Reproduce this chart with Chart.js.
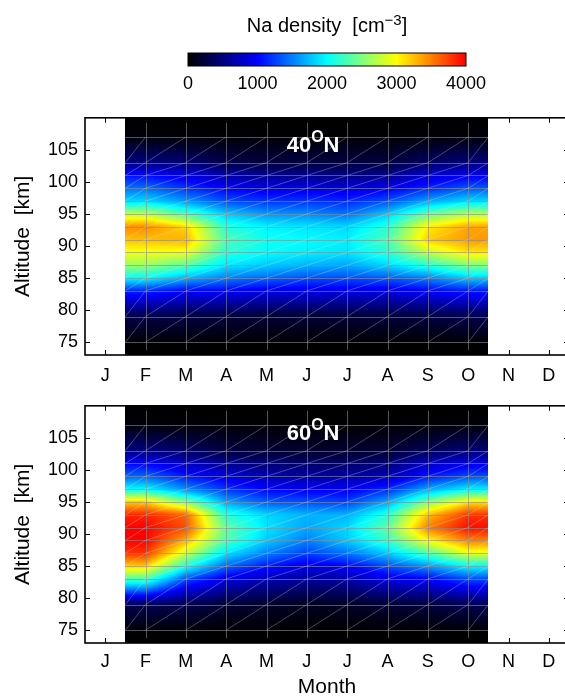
<!DOCTYPE html>
<html lang="en">
<head>
<meta charset="UTF-8">
<title>Na density by month and altitude</title>
<script src="https://cdn.jsdelivr.net/npm/chart.js@4.4.1/dist/chart.umd.min.js"></script>
<style>
  html, body { margin: 0; padding: 0; overflow: hidden; background: #fff; }
  body { position: relative; width: 565px; height: 698px; }
  canvas { position: absolute; left: 0; }
  #cbar { top: 0; }
  #map40 { top: 100px; }
  #map60 { top: 388px; }
</style>
</head>
<body>
<canvas id="cbar" width="565" height="100"></canvas>
<canvas id="map40" width="575" height="290"></canvas>
<canvas id="map60" width="575" height="310"></canvas>
<script>
// axis labels and ticks
const monthLabels = ['J', 'F', 'M', 'A', 'M', 'J', 'J', 'A', 'S', 'O', 'N', 'D'];
const monthTicks = [1, 2, 3, 4, 5, 6, 7, 8, 9, 10, 11, 12];
const altTicks = [75, 80, 85, 90, 95, 100, 105];
const cbTicks = [0, 1000, 2000, 3000, 4000];

// measurement grid: columns are months (Feb..Oct), rows are altitudes in km
const dataMonths = [2, 3, 4, 5, 6, 7, 8, 9, 10];
const dataStart = 1.5, dataEnd = 10.5;
const altRows = [73, 75, 79, 83, 85, 87, 89, 91, 93, 95, 97, 99, 101, 103, 107, 110];

// 40N, density per altitude row (cm^-3)
const feb40 = [0, 20, 280, 1150, 2000, 2600, 2950, 3250, 3450, 2750, 1850, 1450, 1050, 500, 40, 0];
const mar40 = [0, 20, 250, 1000, 1700, 2350, 2950, 3300, 3150, 2300, 1600, 1200, 900, 450, 30, 0];
const apr40 = [0, 10, 220, 1000, 1500, 1900, 2150, 2300, 2150, 1800, 1300, 1000, 650, 300, 20, 0];
const may40 = [0, 10, 200, 900, 1400, 1800, 2000, 2050, 1950, 1600, 1200, 900, 550, 250, 20, 0];
const jun40 = [0, 10, 200, 900, 1300, 1700, 1950, 2000, 1900, 1550, 1200, 900, 550, 250, 20, 0];
const jul40 = [0, 10, 200, 900, 1300, 1650, 1900, 1950, 1850, 1450, 1150, 850, 500, 250, 20, 0];
const aug40 = [0, 10, 220, 900, 1350, 1850, 2150, 2300, 2150, 1800, 1300, 950, 550, 250, 20, 0];
const sep40 = [0, 15, 250, 1000, 1500, 2150, 2750, 3200, 3050, 2400, 1650, 1150, 800, 400, 30, 0];
const oct40 = [0, 20, 300, 1100, 1800, 2500, 3100, 3400, 3350, 2700, 1850, 1350, 950, 480, 40, 0];

// 60N
const feb60 = [0, 30, 320, 2300, 3200, 3800, 4000, 4000, 3850, 3200, 2000, 1400, 1000, 500, 40, 0];
const mar60 = [0, 20, 300, 1300, 2100, 2800, 3300, 3700, 3600, 2500, 1550, 1100, 750, 400, 30, 0];
const apr60 = [0, 10, 200, 900, 1400, 1900, 2300, 2400, 2150, 1650, 1200, 900, 550, 250, 20, 0];
const may60 = [0, 10, 160, 700, 1100, 1500, 1800, 1900, 1850, 1350, 1000, 700, 450, 200, 15, 0];
const jun60 = [0, 5, 120, 600, 900, 1250, 1500, 1650, 1700, 1300, 950, 650, 400, 180, 10, 0];
const jul60 = [0, 5, 140, 650, 1000, 1450, 1800, 1850, 1700, 1250, 950, 650, 400, 180, 10, 0];
const aug60 = [0, 10, 200, 900, 1300, 1800, 2200, 2400, 2150, 1650, 1150, 750, 450, 200, 15, 0];
const sep60 = [0, 15, 240, 1000, 1600, 2300, 3000, 3500, 3250, 2500, 1650, 1100, 750, 350, 25, 0];
const oct60 = [0, 20, 320, 1300, 2000, 2900, 3500, 3950, 3800, 3100, 1950, 1300, 900, 450, 35, 0];

const grid40 = [feb40, mar40, apr40, may40, jun40, jul40, aug40, sep40, oct40];
const grid60 = [feb60, mar60, apr60, may60, jun60, jul60, aug60, sep60, oct60];

const cMin = cbTicks[0], cMax = cbTicks[cbTicks.length - 1];
const FONT = '"Liberation Sans", Arial, Helvetica, sans-serif';
Chart.defaults.font.family = FONT;
Chart.defaults.color = '#000';

// black -> blue -> cyan -> yellow -> red
const cStops = [[0, 0, 0], [0, 0, 255], [0, 255, 255], [255, 255, 0], [255, 0, 0]];
function cmap(v) {
    let t = (v - cMin) / (cMax - cMin);
    t = Math.min(1, Math.max(0, t)) * (cStops.length - 1);
    const i = Math.min(cStops.length - 2, Math.floor(t));
    const f = t - i;
    const a = cStops[i], b = cStops[i + 1];
    return [a[0] + (b[0] - a[0]) * f, a[1] + (b[1] - a[1]) * f, a[2] + (b[2] - a[2]) * f];
}

function findCell(arr, v) {
    v = Math.min(arr[arr.length - 1], Math.max(arr[0], v));
    let i = 0;
    while (i < arr.length - 2 && v > arr[i + 1]) i++;
    return [i, (v - arr[i]) / (arr[i + 1] - arr[i])];
}

function interp(grid, m, a) {
    const [i, tm] = findCell(dataMonths, m);
    const [j, ta] = findCell(altRows, a);
    const lo = grid[i][j] * (1 - ta) + grid[i][j + 1] * ta;
    const hi = grid[i + 1][j] * (1 - ta) + grid[i + 1][j + 1] * ta;
    return lo * (1 - tm) + hi * tm;
}

// draws pieces of text with superscripts, starting at x on a baseline
function drawParts(ctx, parts, x, y, align) {
    ctx.save();
    ctx.textBaseline = 'alphabetic';
    ctx.textAlign = 'left';
    let total = 0;
    parts.forEach(p => { ctx.font = p.font; total += ctx.measureText(p.text).width; });
    let cx = align === 'center' ? x - total / 2 : x;
    parts.forEach(p => {
        ctx.font = p.font;
        ctx.fillText(p.text, cx, y + p.dy);
        cx += ctx.measureText(p.text).width;
    });
    ctx.restore();
}

const colorbarPlugin = {
    id: 'colorbar',
    afterDraw(chart) {
        const {ctx, chartArea: a, scales: {x}} = chart;
        ctx.save();
        for (let px = Math.floor(a.left); px < Math.ceil(a.right); px++) {
            const c = cmap(x.getValueForPixel(px + 0.5));
            ctx.fillStyle = `rgb(${c[0] | 0},${c[1] | 0},${c[2] | 0})`;
            ctx.fillRect(px, a.top, 1, a.bottom - a.top);
        }
        ctx.strokeStyle = '#000';
        ctx.lineWidth = 1;
        ctx.strokeRect(a.left, a.top, a.right - a.left, a.bottom - a.top);
        ctx.fillStyle = '#000';
        drawParts(ctx, [
            {text: 'Na density  [cm', font: `20px ${FONT}`, dy: 0},
            {text: '\u22123', font: `15px ${FONT}`, dy: -7},
            {text: ']', font: `20px ${FONT}`, dy: 0}
        ], (a.left + a.right) / 2, 32, 'center');
        ctx.restore();
    }
};

new Chart(document.getElementById('cbar'), {
    type: 'scatter',
    data: {datasets: []},
    options: {
        responsive: false,
        animation: false,
        layout: {padding: {left: 188, right: 99, top: 53, bottom: 0}},
        plugins: {legend: {display: false}, tooltip: {enabled: false}},
        scales: {
            x: {
                type: 'linear', min: cMin, max: cMax,
                afterBuildTicks: s => { s.ticks = cbTicks.map(v => ({value: v})); },
                afterFit: s => { s.height = 34; },
                grid: {display: false, drawTicks: false},
                border: {display: false},
                ticks: {padding: 7, font: {size: 18}, maxRotation: 0, autoSkip: false, callback: v => String(v)}
            },
            y: {display: false, min: 0, max: 1}
        }
    },
    plugins: [colorbarPlugin]
});

function makeMap(id, grid, lat, axisHeight, tickPad, showTitle) {
    const meshCols = [dataStart, ...dataMonths, dataEnd];
    const heatPlugin = {
        id: 'heat' + id,
        beforeDatasetsDraw(chart) {
            const {ctx, chartArea: a, scales: {x, y}} = chart;
            const x0 = Math.round(x.getPixelForValue(dataStart));
            const x1 = Math.round(x.getPixelForValue(dataEnd));
            const y0 = Math.round(a.top), y1 = Math.round(a.bottom);
            const w = x1 - x0, h = y1 - y0;
            const off = document.createElement('canvas');
            off.width = w; off.height = h;
            const octx = off.getContext('2d');
            const img = octx.createImageData(w, h);
            for (let py = 0; py < h; py++) {
                const alt = y.getValueForPixel(y0 + py + 0.5);
                for (let px = 0; px < w; px++) {
                    const m = x.getValueForPixel(x0 + px + 0.5);
                    const c = cmap(interp(grid, m, alt));
                    const k = (py * w + px) * 4;
                    img.data[k] = c[0]; img.data[k + 1] = c[1]; img.data[k + 2] = c[2]; img.data[k + 3] = 255;
                }
            }
            octx.putImageData(img, 0, 0);
            ctx.drawImage(off, x0, y0);

            // mesh of the measurement grid
            ctx.save();
            ctx.beginPath();
            ctx.rect(x0, y0, w, h);
            ctx.clip();
            ctx.lineWidth = 1;
            ctx.strokeStyle = 'rgba(140,140,140,0.6)';
            ctx.beginPath();
            altRows.slice(1, -1).forEach(v => {
                const py = Math.round(y.getPixelForValue(v)) + 0.5;
                ctx.moveTo(x0, py); ctx.lineTo(x1, py);
            });
            dataMonths.forEach(v => {
                const px = Math.round(x.getPixelForValue(v)) + 0.5;
                ctx.moveTo(px, y0); ctx.lineTo(px, y1);
            });
            ctx.stroke();
            // cell diagonals
            ctx.strokeStyle = 'rgba(220,220,220,0.4)';
            ctx.lineWidth = 0.8;
            ctx.beginPath();
            for (let i = 0; i < meshCols.length - 1; i++) {
                for (let j = 1; j < altRows.length - 2; j++) {
                    ctx.moveTo(x.getPixelForValue(meshCols[i]), y.getPixelForValue(altRows[j]));
                    ctx.lineTo(x.getPixelForValue(meshCols[i + 1]), y.getPixelForValue(altRows[j + 1]));
                }
            }
            ctx.stroke();
            ctx.restore();
        },
        afterDraw(chart) {
            const {ctx, chartArea: a, scales: {x, y}} = chart;
            ctx.save();
            ctx.strokeStyle = '#000';
            ctx.lineWidth = 1;
            ctx.beginPath();
            x.ticks.forEach(t => {
                const px = Math.round(x.getPixelForValue(t.value)) + 0.5;
                ctx.moveTo(px, a.top); ctx.lineTo(px, a.top + 5);
                ctx.moveTo(px, a.bottom); ctx.lineTo(px, a.bottom - 5);
            });
            y.ticks.forEach(t => {
                const py = Math.round(y.getPixelForValue(t.value)) + 0.5;
                ctx.moveTo(a.left, py); ctx.lineTo(a.left + 5, py);
                ctx.moveTo(a.right, py); ctx.lineTo(a.right - 5, py);
            });
            ctx.stroke();
            ctx.lineWidth = 1.6;
            ctx.strokeRect(a.left, a.top, a.right - a.left, a.bottom - a.top);

            ctx.fillStyle = '#fff';
            drawParts(ctx, [
                {text: lat, font: `bold 22px ${FONT}`, dy: 0},
                {text: 'O', font: `bold 16px ${FONT}`, dy: -10},
                {text: 'N', font: `bold 22px ${FONT}`, dy: 0}
            ], x.getPixelForValue(5.5), y.getPixelForValue(104.6), 'left');
            ctx.restore();
        }
    };

    return new Chart(document.getElementById(id), {
        type: 'scatter',
        data: {datasets: []},
        options: {
            responsive: false,
            animation: false,
            layout: {padding: {left: 0, right: 6, top: 14, bottom: 0}},
            plugins: {legend: {display: false}, tooltip: {enabled: false}},
            scales: {
                x: {
                    type: 'linear', min: 0.5, max: 12.5,
                    afterBuildTicks: s => { s.ticks = monthTicks.map(v => ({value: v})); },
                    afterFit: s => { s.height = axisHeight; },
                    grid: {display: false, drawTicks: false},
                    border: {display: false},
                    ticks: {padding: tickPad, font: {size: 18}, maxRotation: 0, autoSkip: false,
                        callback: (v, i) => monthLabels[i]},
                    title: {display: showTitle, text: 'Month', font: {size: 21, lineHeight: 1}, padding: {top: 0, bottom: 0}}
                },
                y: {
                    type: 'linear', min: 73, max: 110,
                    afterBuildTicks: s => { s.ticks = altTicks.map(v => ({value: v})); },
                    afterFit: s => { s.width = 85; },
                    grid: {display: false, drawTicks: false},
                    border: {display: false},
                    ticks: {padding: 7, font: {size: 18}, callback: v => String(v)},
                    title: {display: true, text: 'Altitude  [km]', font: {size: 21, lineHeight: 1}, padding: {top: 13, bottom: 0}}
                }
            }
        },
        plugins: [heatPlugin]
    });
}

makeMap('map40', grid40, '40', 35, 10, false);
makeMap('map60', grid60, '60', 55, 8, true);
</script>
</body>
</html>
